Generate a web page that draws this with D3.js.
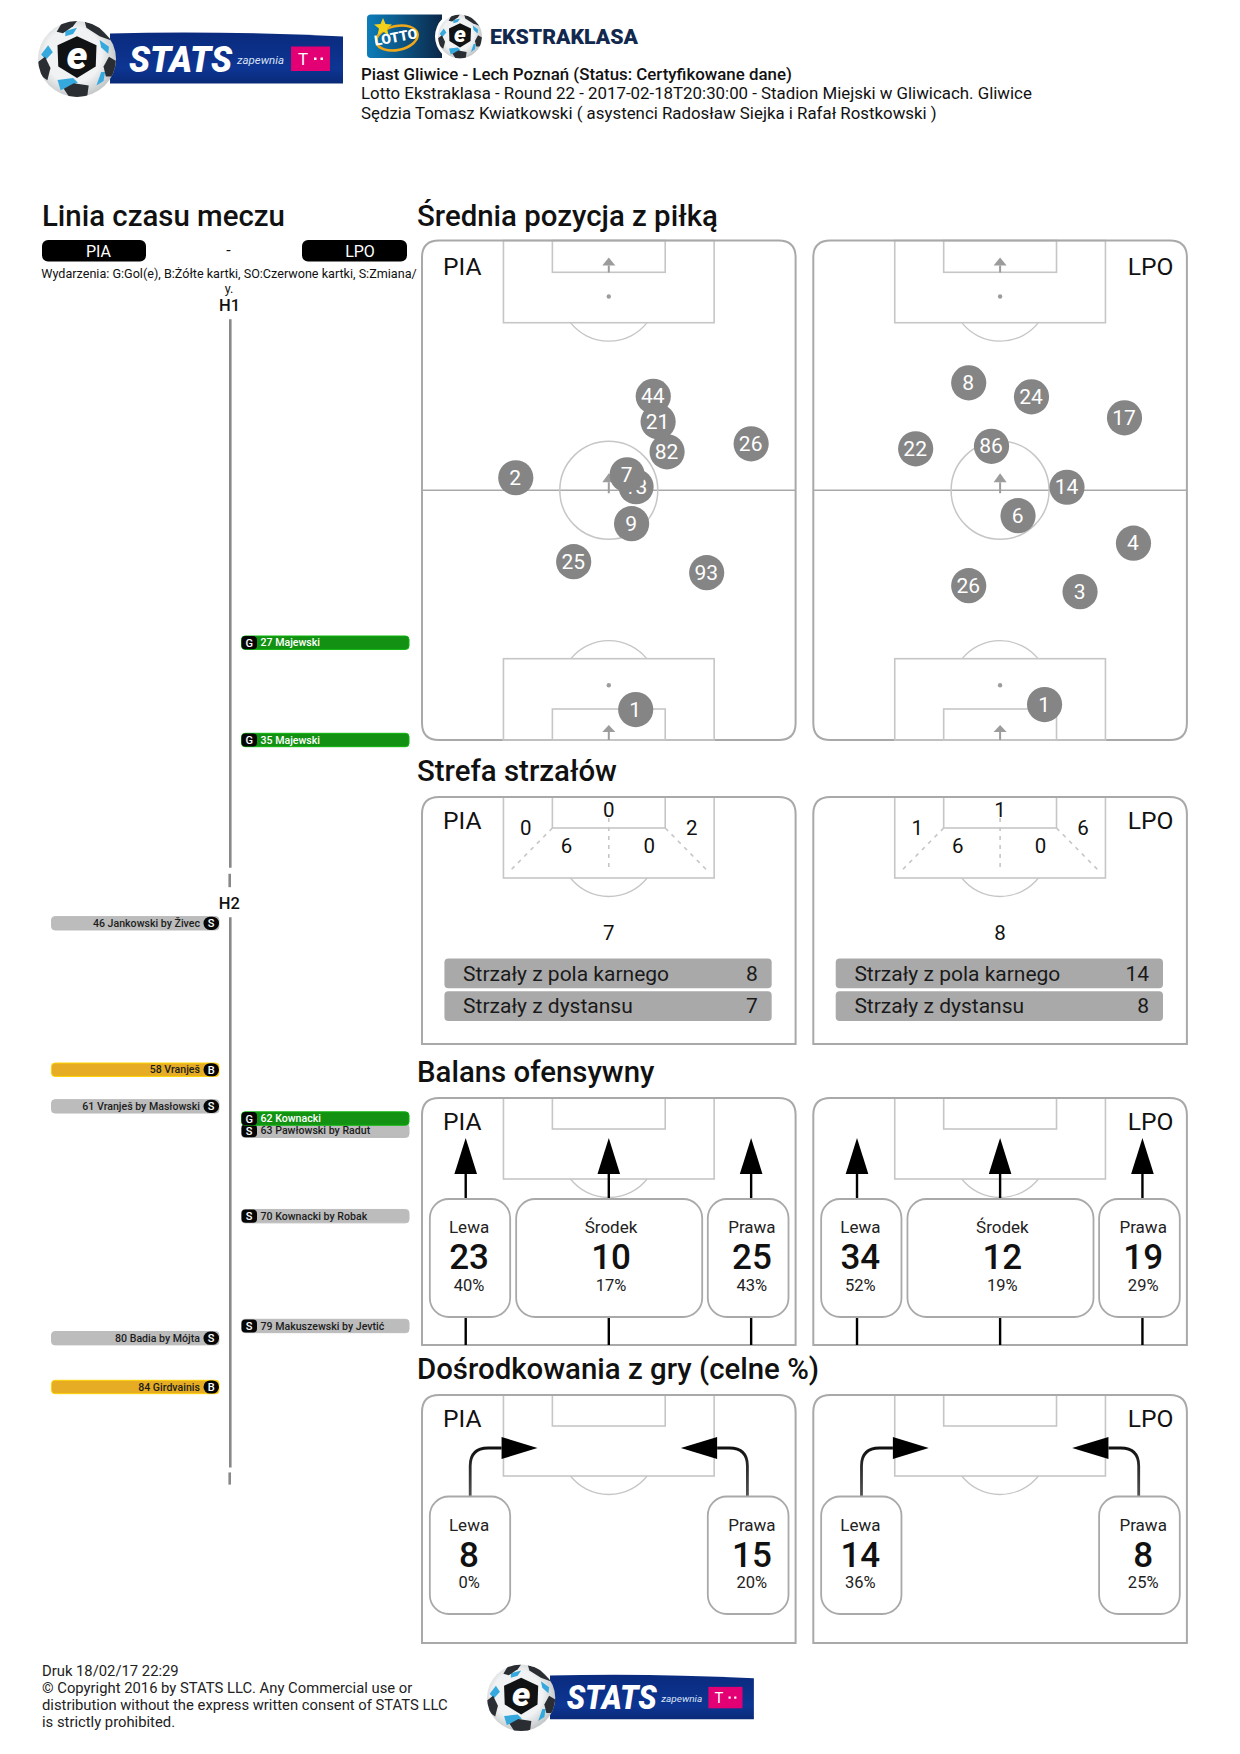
<!DOCTYPE html>
<html>
<head>
<meta charset="utf-8">
<script src="https://cdn.jsdelivr.net/npm/d3@7"></script>
<style>
  html, body { margin: 0; padding: 0; background: #fff; }
  text { font-family: Roboto, sans-serif; }
</style>
</head>
<body>
<svg id="page" width="1240" height="1754"></svg>
<script>
var teams = ["PIA", "LPO"];

var headerLines = [
  "Piast Gliwice - Lech Poznań (Status: Certyfikowane dane)",
  "Lotto Ekstraklasa - Round 22 - 2017-02-18T20:30:00 - Stadion Miejski w Gliwicach. Gliwice",
  "Sędzia Tomasz Kwiatkowski ( asystenci Radosław Siejka i Rafał Rostkowski )"
];
var footerLines = [
  "Druk 18/02/17 22:29",
  "© Copyright 2016 by STATS LLC. Any Commercial use or",
  "distribution without the express written consent of STATS LLC",
  "is strictly prohibited."
];

// timeline: [minute, team index, kind, label]
var eventsH1 = [
  [27, 1, "G", "27 Majewski"],
  [35, 1, "G", "35 Majewski"]
];
var eventsH2 = [
  [46, 0, "S", "46 Jankowski by Živec"],
  [58, 0, "B", "58 Vranješ"],
  [61, 0, "S", "61 Vranješ by Masłowski"],
  [63, 1, "S", "63 Pawłowski by Radut"],
  [62, 1, "G", "62 Kownacki"],
  [70, 1, "S", "70 Kownacki by Robak"],
  [79, 1, "S", "79 Makuszewski by Jevtić"],
  [80, 0, "S", "80 Badia by Mójta"],
  [84, 0, "B", "84 Girdvainis"]
];
var h1Segments = [[0.4, 45.5], [46, 47.1]];
var h2Segments = [[45.5, 90.6], [91, 92]];

// average position: [shirt, x %, y %]
var positionsPIA = [
  [44, 61.9, 31.2], [21, 63.2, 36.3], [82, 65.6, 42.3], [26, 88.1, 40.7],
  [2, 25.1, 47.5], [13, 57.3, 49.3], [7, 54.9, 46.9], [9, 56.1, 56.7],
  [25, 40.6, 64.3], [93, 76.2, 66.5], [1, 57.2, 93.9]
];
var positionsLPO = [
  [8, 41.6, 28.5], [24, 58.4, 31.3], [17, 83.3, 35.5], [22, 27.4, 41.7],
  [86, 47.7, 41.2], [14, 67.9, 49.4], [6, 54.8, 55.1], [4, 85.7, 60.6],
  [26, 41.6, 69.1], [3, 71.4, 70.3], [1, 61.9, 92.9]
];

// shot zones: far left, top, far right, near left, near right, outside
var shotZonesPIA = [0, 0, 2, 6, 0, 7];
var shotZonesLPO = [1, 1, 6, 6, 0, 8];
var shotLabels = ["Strzały z pola karnego", "Strzały z dystansu"];
var shotTotalsPIA = [8, 7];
var shotTotalsLPO = [14, 8];

var balanceLabels = ["Lewa", "Środek", "Prawa"];
var balancePIA = [23, 10, 25];
var balancePIApct = [40, 17, 43];
var balanceLPO = [34, 12, 19];
var balanceLPOpct = [52, 19, 29];

var crossLabels = ["Lewa", "Prawa"];
var crossPIA = [8, 15];
var crossPIApct = [0, 20];
var crossLPO = [14, 8];
var crossLPOpct = [36, 25];

/** PAGE SETUP **/
var svg = d3.select("#page");
var panelLine = "#a9a9a9", pitchLine = "#c6c6c6", pitchMark = "#9c9c9c", dotGrey = "#858585";
var panelW = 373.6, panelLefts = [422, 813.3];
var defs = svg.append("defs");

function addText(g, x, y, str, size, opts) {
  opts = opts || {};
  return g.append("text")
    .attr("x", x).attr("y", y)
    .attr("text-anchor", opts.anchor || "start")
    .attr("font-size", size)
    .attr("font-weight", opts.weight || 400)
    .attr("fill", opts.fill || "#111")
    .text(str);
}

/* FUNCTIONS FOR THE LOGOS */
var ballCount = 0;
function drawBall(g, cx, cy, rx, ry) {
  var id = "ball" + (ballCount++);
  var grad = defs.append("radialGradient").attr("id", id + "g").attr("cx", "45%").attr("cy", "45%").attr("r", "60%");
  grad.append("stop").attr("offset", "0.6").attr("stop-color", "#f0f2f3");
  grad.append("stop").attr("offset", "1").attr("stop-color", "#bcbfc1");
  defs.append("clipPath").attr("id", id + "c").append("ellipse")
    .attr("cx", 0).attr("cy", 0).attr("rx", 1).attr("ry", 1);

  var b = g.append("g").attr("transform", "translate(" + cx + "," + cy + ") scale(" + rx + "," + ry + ")");
  b.append("ellipse").attr("rx", 1).attr("ry", 1).attr("fill", "url(#" + id + "g)");
  var inner = b.append("g").attr("clip-path", "url(#" + id + "c)");

  var blue = [
    [[-0.3,-0.74],[0,-0.82],[-0.1,-0.66],[-0.3,-0.6]],
    [[0.58,-0.5],[0.82,-0.32],[0.8,-0.14],[0.62,-0.3]],
    [[-0.92,-0.12],[-0.74,-0.36],[-0.62,-0.18],[-0.8,0.02]],
    [[0.5,0.7],[0.62,0.34],[0.72,0.34],[0.68,0.58]],
    [[-0.5,0.55],[-0.1,0.5],[0.02,0.62],[-0.42,0.82]]
  ];
  var dark = [
    [[-0.52,-0.72],[-0.36,-1],[0,-1],[-0.1,-0.86],[-0.36,-0.68]],
    [[0.2,-0.98],[0.5,-0.9],[0.9,-0.48],[0.58,-0.6],[0.24,-0.82]],
    [[-1,0.08],[-0.82,-0.06],[-0.68,0.24],[-0.76,0.56],[-0.98,0.4]],
    [[0.82,-0.06],[1,0.05],[0.95,0.46],[0.74,0.46],[0.68,0.2]],
    [[-0.34,0.78],[-0.08,0.64],[0.3,0.7],[0.26,1],[-0.2,1]]
  ];
  inner.selectAll(".blue").data(blue).enter().append("polygon")
    .attr("points", function(d) { return d.join(" "); }).attr("fill", "#35a9de");
  inner.selectAll(".dark").data(dark).enter().append("polygon")
    .attr("points", function(d) { return d.join(" "); }).attr("fill", "#2a2e32");
  inner.append("polygon")
    .attr("points", "0,-0.6 0.5,-0.36 0.48,0.2 0,0.5 -0.48,0.2 -0.5,-0.36")
    .attr("fill", "#101214");
  b.append("text").attr("x", 0).attr("y", 0.26).attr("text-anchor", "middle")
    .attr("font-size", 1.02).attr("font-weight", 900).attr("font-style", "italic")
    .attr("fill", "#fff").text("e");
}

function drawStatsLogo(g, x, y, k) {
  var l = g.append("g").attr("transform", "translate(" + x + "," + y + ") scale(" + k + ")");
  var id = "banner" + ballCount;
  var grad = defs.append("linearGradient").attr("id", id).attr("x1", 0).attr("x2", 0).attr("y1", 0).attr("y2", 1);
  grad.append("stop").attr("offset", "0").attr("stop-color", "#0a2b7e");
  grad.append("stop").attr("offset", "0.7").attr("stop-color", "#0d3593");
  grad.append("stop").attr("offset", "1").attr("stop-color", "#0a2a78");
  l.append("path").attr("d", "M72,12 Q180,9 305,15 L305,62 L72,62 Z").attr("fill", "url(#" + id + ")");
  drawBall(l, 39, 37.5, 39, 38);
  l.append("text").attr("x", 91).attr("y", 50).attr("font-size", 37).attr("font-weight", 900)
    .attr("font-style", "italic").attr("textLength", 103).attr("lengthAdjust", "spacingAndGlyphs")
    .attr("fill", "#fff").text("STATS");
  l.append("text").attr("x", 199).attr("y", 42).attr("font-size", 10).attr("font-style", "italic")
    .attr("textLength", 47).attr("lengthAdjust", "spacingAndGlyphs")
    .attr("fill", "#d8e2f5").text("zapewnia");
  l.append("rect").attr("x", 253).attr("y", 25).attr("width", 39).attr("height", 24.5).attr("fill", "#e20074");
  l.append("text").attr("x", 265).attr("y", 43.5).attr("text-anchor", "middle").attr("font-size", 17)
    .attr("font-family", "Liberation Serif").attr("fill", "#fff").text("T");
  l.selectAll(".tdot").data([276, 282.5]).enter().append("rect")
    .attr("x", function(d) { return d; }).attr("y", 36).attr("width", 2.5).attr("height", 2.5).attr("fill", "#fff");
}

function drawLottoLogo(g) {
  var grad = defs.append("linearGradient").attr("id", "lottoBg");
  grad.append("stop").attr("offset", "0").attr("stop-color", "#0c7dba");
  grad.append("stop").attr("offset", "1").attr("stop-color", "#0b2748");
  g.append("path").attr("d", "M371,14.5 H442 V58 H371 Q367,58 367,54 V18 Q367,14.5 371,14.5 Z").attr("fill", "url(#lottoBg)");
  g.append("ellipse").attr("cx", 397).attr("cy", 38).attr("rx", 21).attr("ry", 12)
    .attr("fill", "none").attr("stroke", "#f0a818").attr("stroke-width", 2.5).attr("transform", "rotate(-12 397 38)");
  g.append("path").attr("d", "M383,18 L385.5,24 L392,24.5 L387,28.5 L388.5,35 L383,31.5 L377.5,35 L379,28.5 L374,24.5 L380.5,24 Z").attr("fill", "#f4d21a");
  g.append("text").attr("x", 396).attr("y", 42).attr("text-anchor", "middle").attr("font-size", 14)
    .attr("font-weight", 900).attr("fill", "#fff").attr("transform", "rotate(-10 396 38)").text("LOTTO");
  g.append("ellipse").attr("cx", 460).attr("cy", 36.5).attr("rx", 25).attr("ry", 25).attr("fill", "#fff");
  drawBall(g, 460, 36.5, 22, 22);
  g.append("text").attr("x", 490).attr("y", 44.4).attr("font-size", 21).attr("font-weight", 900)
    .attr("textLength", 148).attr("lengthAdjust", "spacingAndGlyphs").attr("fill", "#12294d").text("EKSTRAKLASA");
}

/* FUNCTIONS FOR THE TIMELINE */
function drawHalf(g, minuteY, segments, events) {
  g.selectAll(".seg").data(segments).enter().append("line")
    .attr("x1", function(d, i) { return i ? 229.7 : 230.3; })
    .attr("x2", function(d, i) { return i ? 229.7 : 230.3; })
    .attr("y1", function(d) { return minuteY(d[0]); })
    .attr("y2", function(d) { return minuteY(d[1]); })
    .attr("stroke", "#888").attr("stroke-width", 2.6);

  var fills = { G: "#129112", B: "#e6ad24", S: "#bcbcbc" };
  var edges = { G: "#0bb40b", B: "#ffd200", S: "#bcbcbc" };
  var rows = g.selectAll(".event").data(events).enter().append("g")
    .attr("transform", function(d) { return "translate(0," + minuteY(d[0]) + ")"; });

  rows.append("rect")
    .attr("x", function(d) { return d[1] ? 241.5 : 51.5; })
    .attr("y", -6.7).attr("width", 167.5).attr("height", 13.4).attr("rx", 3.5)
    .attr("fill", function(d) { return fills[d[2]]; })
    .attr("stroke", function(d) { return edges[d[2]]; });
  rows.append("rect")
    .attr("x", function(d) { return d[1] ? 241.5 : 203.5; })
    .attr("y", -6.6).attr("width", 15.5).attr("height", 13.2)
    .attr("rx", function(d) { return d[1] ? 4 : 6.5; })
    .attr("fill", "#060606");
  rows.append("text")
    .attr("x", function(d) { return d[1] ? 249.2 : 211.2; })
    .attr("y", 4).attr("text-anchor", "middle").attr("font-size", 11)
    .attr("font-weight", 500).attr("fill", "#fff")
    .text(function(d) { return d[2]; });
  rows.append("text")
    .attr("x", function(d) { return d[1] ? 260.5 : 200; })
    .attr("y", 3.6)
    .attr("text-anchor", function(d) { return d[1] ? "start" : "end"; })
    .attr("font-size", 10.6).attr("font-weight", 500)
    .attr("fill", function(d) { return d[2] === "G" ? "#fff" : "#1c1c1c"; })
    .text(function(d) { return d[3]; });
}

/* FUNCTIONS FOR THE PITCH PANELS */
function panelPath(x0, y0, h, roundBottom) {
  var r = 17, x1 = x0 + panelW, y1 = y0 + h, rb = roundBottom ? r : 0;
  return "M" + x0 + "," + (y0 + r) + " Q" + x0 + "," + y0 + " " + (x0 + r) + "," + y0 +
    " H" + (x1 - r) + " Q" + x1 + "," + y0 + " " + x1 + "," + (y0 + r) +
    " V" + (y1 - rb) + " Q" + x1 + "," + y1 + " " + (x1 - rb) + "," + y1 +
    " H" + (x0 + rb) + " Q" + x0 + "," + y1 + " " + x0 + "," + (y1 - rb) + " Z";
}

function goalArrow(g, cx, tipY, h, stemEnd) {
  g.append("path").attr("d", "M" + cx + "," + tipY + " L" + (cx + 6.5) + "," + (tipY + h) + " H" + (cx - 6.5) + " Z").attr("fill", pitchMark);
  g.append("line").attr("x1", cx).attr("x2", cx).attr("y1", tipY + h).attr("y2", stemEnd)
    .attr("stroke", pitchMark).attr("stroke-width", 2);
}

// top penalty area, measured from the panel's top edge
function drawTopBox(g, x, top, arcDrop, boxH, goalH) {
  var cx = x(50);
  g.append("rect").attr("x", x(21.8)).attr("y", top).attr("width", x(78.2) - x(21.8)).attr("height", boxH)
    .attr("fill", "none").attr("stroke", pitchLine).attr("stroke-width", 1.6);
  g.append("rect").attr("x", x(34.9)).attr("y", top).attr("width", x(65.1) - x(34.9)).attr("height", goalH)
    .attr("fill", "none").attr("stroke", pitchLine).attr("stroke-width", 1.6);
  var r = 49, cy = top + boxH + arcDrop - r;
  var dx = Math.sqrt(r * r - Math.pow(top + boxH - cy, 2));
  g.append("path").attr("d", "M" + (cx - dx) + "," + (top + boxH) + " A" + r + "," + r + " 0 0 0 " + (cx + dx) + "," + (top + boxH))
    .attr("fill", "none").attr("stroke", pitchLine).attr("stroke-width", 1.3);
}

function drawPanel(g, idx, top, h, roundBottom) {
  var x = d3.scaleLinear().domain([0, 100]).range([panelLefts[idx], panelLefts[idx] + panelW]);
  drawTopBox(g, x, top, 18.5, roundBottom ? 82.2 : 81, roundBottom ? 31.8 : 31);
  g.append("path").attr("d", panelPath(panelLefts[idx], top, h, roundBottom))
    .attr("fill", "none").attr("stroke", panelLine).attr("stroke-width", 2);
  addText(g, idx ? x(100) - 13.5 : x(0) + 21, top + (roundBottom ? 34 : 32), teams[idx], 24.6, { anchor: idx ? "end" : "start" });
  return x;
}

function drawPositions(g, idx, players) {
  var top = 240.5, h = 499.5;
  var x = drawPanel(g, idx, top, h, true);
  var y = d3.scaleLinear().domain([0, 100]).range([top, top + h]);
  var cx = x(50);

  goalArrow(g, cx, top + 17, 8, top + 32);
  g.append("circle").attr("cx", cx).attr("cy", top + 56).attr("r", 2.2).attr("fill", pitchMark);

  g.append("line").attr("x1", x(0)).attr("x2", x(100)).attr("y1", y(50)).attr("y2", y(50))
    .attr("stroke", panelLine).attr("stroke-width", 1.4);
  g.append("circle").attr("cx", cx).attr("cy", y(50)).attr("r", 49)
    .attr("fill", "none").attr("stroke", pitchLine).attr("stroke-width", 1.5);
  goalArrow(g, cx, y(50) - 17, 9, y(50) + 3);

  // bottom box
  var bTop = top + h - 81.3, gTop = top + h - 31;
  g.append("rect").attr("x", x(21.8)).attr("y", bTop).attr("width", x(78.2) - x(21.8)).attr("height", 81.3)
    .attr("fill", "none").attr("stroke", pitchLine).attr("stroke-width", 1.6);
  g.append("rect").attr("x", x(34.9)).attr("y", gTop).attr("width", x(65.1) - x(34.9)).attr("height", 31)
    .attr("fill", "none").attr("stroke", pitchLine).attr("stroke-width", 1.6);
  var r = 49, cy = bTop - 18 + r, dx = Math.sqrt(r * r - Math.pow(cy - bTop, 2));
  g.append("path").attr("d", "M" + (cx - dx) + "," + bTop + " A" + r + "," + r + " 0 0 1 " + (cx + dx) + "," + bTop)
    .attr("fill", "none").attr("stroke", pitchLine).attr("stroke-width", 1.3);
  g.append("circle").attr("cx", cx).attr("cy", top + h - 54.7).attr("r", 2.2).attr("fill", pitchMark);
  goalArrow(g, cx, top + h - 15, 7, top + h);

  var dots = g.selectAll(".player").data(players).enter().append("g")
    .attr("transform", function(d) { return "translate(" + x(d[1]) + "," + y(d[2]) + ")"; });
  dots.append("circle").attr("r", 17.6).attr("fill", dotGrey);
  dots.append("text").attr("text-anchor", "middle").attr("y", 7).attr("x", -0.5)
    .attr("font-size", 21).attr("fill", "#fff")
    .text(function(d) { return d[0]; });
}

function drawShots(g, idx, zones, totals) {
  var top = 797, h = 247;
  var x = drawPanel(g, idx, top, h, false);
  var cx = x(50), yA = top + 31, yB = top + 73;
  var dashes = [[x(34.9), yA, x(23.8), yB], [x(65.1), yA, x(76.2), yB], [cx, top + 21, cx, yB]];
  g.selectAll(".dash").data(dashes).enter().append("line")
    .attr("x1", function(d) { return d[0]; }).attr("y1", function(d) { return d[1]; })
    .attr("x2", function(d) { return d[2]; }).attr("y2", function(d) { return d[3]; })
    .attr("stroke", "#c6c6c6").attr("stroke-width", 1.6).attr("stroke-dasharray", "4,5");

  var slots = [[27.8, 38], [50, 19.5], [72.2, 38], [38.7, 56], [60.8, 56], [50, 142.5]];
  slots.forEach(function(s, i) {
    addText(g, x(s[0]), top + s[1], zones[i], 20.5, { anchor: "middle" });
  });

  var rows = g.selectAll(".shotbar").data(shotLabels).enter().append("g")
    .attr("transform", function(d, i) { return "translate(0," + (top + 161.5 + i * 32.7) + ")"; });
  rows.append("rect").attr("x", x(6)).attr("width", x(93.6) - x(6)).attr("height", 29.8).attr("rx", 4).attr("fill", "#a9a9a9");
  rows.append("text").attr("x", x(11)).attr("y", 22).attr("font-size", 21).attr("fill", "#1a1a1a")
    .text(function(d) { return d; });
  rows.append("text").attr("x", x(89.9)).attr("y", 22).attr("text-anchor", "end").attr("font-size", 21).attr("fill", "#1a1a1a")
    .text(function(d, i) { return totals[i]; });
}

function statBox(g, x0, x1, y0, y1, tx, label, value, pct) {
  g.append("rect").attr("x", x0).attr("y", y0).attr("width", x1 - x0).attr("height", y1 - y0).attr("rx", 19)
    .attr("fill", "#fff").attr("stroke", panelLine).attr("stroke-width", 1.8);
  addText(g, tx, y0 + 34, label, 17, { anchor: "middle", fill: "#222" });
  addText(g, tx, y0 + 70, value, 35, { anchor: "middle", weight: 500 });
  addText(g, tx, y0 + 91.5, pct + "%", 16.5, { anchor: "middle", fill: "#222" });
}

function drawBalance(g, idx, values, pcts) {
  var top = 1098, h = 247;
  var x = drawPanel(g, idx, top, h, false);
  var lanes = [11.7, 50, 88.1];
  var boxes = [[2.1, 23.6, 12.6], [25.2, 75, 50.6], [76.5, 98.1, 88.3]];
  lanes.forEach(function(l) {
    g.append("line").attr("x1", x(l)).attr("x2", x(l)).attr("y1", top + 70).attr("y2", top + 104)
      .attr("stroke", "#000").attr("stroke-width", 2.4);
    g.append("line").attr("x1", x(l)).attr("x2", x(l)).attr("y1", top + 218).attr("y2", top + h)
      .attr("stroke", "#000").attr("stroke-width", 2.4);
    g.append("path").attr("d", "M" + x(l) + "," + (top + 40) + " L" + (x(l) + 11.3) + "," + (top + 76) + " H" + (x(l) - 11.3) + " Z")
      .attr("fill", "#000");
  });
  boxes.forEach(function(b, i) {
    statBox(g, x(b[0]), x(b[1]), top + 101, top + 219, x(b[2]), balanceLabels[i], values[i], pcts[i]);
  });
}

function drawCrosses(g, idx, values, pcts) {
  var top = 1395, h = 248;
  var x = drawPanel(g, idx, top, h, false);
  var ay = top + 53;
  var lineGrad = "crossGrad" + idx;
  var grad = defs.append("linearGradient").attr("id", lineGrad).attr("x1", 0).attr("x2", 0).attr("y1", 1).attr("y2", 0);
  grad.append("stop").attr("offset", "0").attr("stop-color", "#555");
  grad.append("stop").attr("offset", "1").attr("stop-color", "#111");

  [[12.9, 21.3, 30.9, 1], [87.1, 79, 69.3, -1]].forEach(function(c) {
    var lx = x(c[0]), bx = x(c[1]), tip = x(c[2]), s = c[3];
    g.append("path")
      .attr("d", "M" + lx + "," + (top + 103) + " V" + (ay + 18) + " Q" + lx + "," + ay + " " + (lx + s * 18) + "," + ay + " H" + bx)
      .attr("fill", "none").attr("stroke", "url(#" + lineGrad + ")").attr("stroke-width", 2.8);
    g.append("path").attr("d", "M" + tip + "," + ay + " L" + bx + "," + (ay - 11) + " V" + (ay + 11) + " Z").attr("fill", "#000");
  });
  var boxes = [[2.1, 23.6, 12.6], [76.5, 98.1, 88.3]];
  boxes.forEach(function(b, i) {
    statBox(g, x(b[0]), x(b[1]), top + 101.5, top + 219, x(b[2]), crossLabels[i], values[i], pcts[i]);
  });
}

/** DRAW THE PAGE **/
drawStatsLogo(svg, 38, 21.5, 1);
drawLottoLogo(svg);
headerLines.forEach(function(l, i) {
  addText(svg, 361, 80 + i * 19.3, l, 16.85, { weight: i ? 400 : 500 });
});

// section titles
addText(svg, 42, 225.5, "Linia czasu meczu", 29.4, { weight: 500 });
addText(svg, 417, 225.5, "Średnia pozycja z piłką", 29.4, { weight: 500 });
addText(svg, 417, 781, "Strefa strzałów", 29.4, { weight: 500 });
addText(svg, 417, 1082, "Balans ofensywny", 29.4, { weight: 500 });
addText(svg, 417, 1379, "Dośrodkowania z gry (celne %)", 29.4, { weight: 500 });

// timeline head
[[42, 146, 98.5], [302, 407, 360]].forEach(function(p, i) {
  svg.append("rect").attr("x", p[0]).attr("y", 240).attr("width", p[1] - p[0]).attr("height", 21.5).attr("rx", 6).attr("fill", "#000");
  addText(svg, p[2], 256.5, teams[i], 16, { anchor: "middle", fill: "#fff" });
});
addText(svg, 228.5, 256, "-", 16, { anchor: "middle" });
addText(svg, 229, 278, "Wydarzenia: G:Gol(e), B:Żółte kartki, SO:Czerwone kartki, S:Zmiana/", 12.6, { anchor: "middle" });
addText(svg, 229, 293, "y.", 12.6, { anchor: "middle" });
addText(svg, 229.5, 311, "H1", 16.5, { anchor: "middle", weight: 500 });
addText(svg, 229.3, 909, "H2", 16.5, { anchor: "middle", weight: 500 });

var h1Y = d3.scaleLinear().domain([27, 35]).range([642.7, 740]);
var h2Y = d3.scaleLinear().domain([46, 84]).range([923.3, 1387]);
drawHalf(svg.append("g"), h1Y, h1Segments, eventsH1);
drawHalf(svg.append("g"), h2Y, h2Segments, eventsH2);

// panels
drawPositions(svg.append("g"), 0, positionsPIA);
drawPositions(svg.append("g"), 1, positionsLPO);
drawShots(svg.append("g"), 0, shotZonesPIA, shotTotalsPIA);
drawShots(svg.append("g"), 1, shotZonesLPO, shotTotalsLPO);
drawBalance(svg.append("g"), 0, balancePIA, balancePIApct);
drawBalance(svg.append("g"), 1, balanceLPO, balanceLPOpct);
drawCrosses(svg.append("g"), 0, crossPIA, crossPIApct);
drawCrosses(svg.append("g"), 1, crossLPO, crossLPOpct);

// footer
footerLines.forEach(function(l, i) {
  addText(svg, 42, 1675.5 + i * 17, l, 14.8, { fill: "#222" });
});
drawStatsLogo(svg, 487, 1665, 0.875);
</script>
</body>
</html>
